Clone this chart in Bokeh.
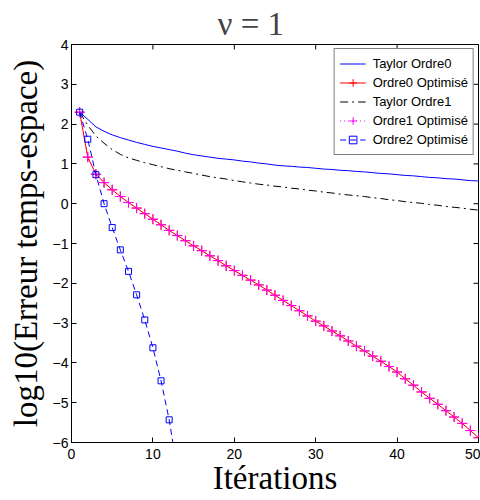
import math
from bokeh.plotting import figure
from bokeh.models import Range1d, FixedTicker, Legend, LegendItem
from bokeh.embed import file_html
from bokeh.resources import INLINE

# ---- data ----
iterations = list(range(1, 51))

taylor_ordre0 = [2.30, 2.12, 1.93, 1.82, 1.73, 1.66, 1.60, 1.54, 1.49, 1.44,
                 1.40, 1.36, 1.32, 1.27, 1.23, 1.20, 1.17, 1.14, 1.12, 1.10,
                 1.07, 1.05, 1.02, 1.00, 0.97, 0.95, 0.94, 0.92, 0.91, 0.89,
                 0.87, 0.86, 0.84, 0.83, 0.81, 0.80, 0.78, 0.76, 0.75, 0.73,
                 0.71, 0.70, 0.68, 0.66, 0.65, 0.63, 0.62, 0.60, 0.58, 0.57]

taylor_ordre1 = [2.30, 1.97, 1.70, 1.52, 1.36, 1.24, 1.15, 1.09, 1.03, 0.98,
                 0.93, 0.88, 0.84, 0.80, 0.76, 0.72, 0.68, 0.65, 0.62, 0.58,
                 0.55, 0.52, 0.49, 0.47, 0.44, 0.42, 0.39, 0.37, 0.34, 0.32,
                 0.29, 0.27, 0.24, 0.22, 0.20, 0.18, 0.15, 0.13, 0.10, 0.08,
                 0.05, 0.03, 0.01, -0.02, -0.04, -0.07, -0.09, -0.11, -0.14, -0.16]

ordre0_opt = [2.30, 1.17, 0.74, 0.53, 0.35, 0.18, 0.03, -0.11, -0.25, -0.39,
              -0.53, -0.67, -0.80, -0.93, -1.06, -1.18, -1.31, -1.43, -1.56, -1.68,
              -1.80, -1.92, -2.04, -2.17, -2.30, -2.43, -2.56, -2.69, -2.82, -2.95,
              -3.07, -3.20, -3.32, -3.45, -3.58, -3.70, -3.83, -3.96, -4.09, -4.23,
              -4.40, -4.56, -4.73, -4.89, -5.04, -5.20, -5.36, -5.52, -5.70, -5.88]

ordre1_opt = [2.30, 1.17, 0.74, 0.53, 0.35, 0.18, 0.03, -0.11, -0.25, -0.39,
              -0.53, -0.67, -0.80, -0.93, -1.06, -1.18, -1.31, -1.43, -1.56, -1.68,
              -1.80, -1.92, -2.04, -2.17, -2.30, -2.43, -2.56, -2.69, -2.82, -2.95,
              -3.07, -3.20, -3.32, -3.45, -3.58, -3.70, -3.83, -3.96, -4.09, -4.23,
              -4.40, -4.56, -4.73, -4.89, -5.04, -5.20, -5.36, -5.52, -5.70, -5.88]

ordre2_iter = [1, 2, 3, 4, 5, 6, 7, 8, 9, 10, 11, 12, 13]
ordre2_opt = [2.30, 1.62, 0.73, 0.00, -0.60, -1.16, -1.70, -2.29, -2.92, -3.62, -4.45, -5.43, -6.70]

x_ticks = [0, 10, 20, 30, 40, 50]
y_ticks = [-6, -5, -4, -3, -2, -1, 0, 1, 2, 3, 4]

x_min, x_max = x_ticks[0], x_ticks[-1]
y_min, y_max = y_ticks[0], y_ticks[-1]

# ---- figure ----
p = figure(width=480, height=500, x_range=Range1d(x_min, x_max), y_range=Range1d(y_min, y_max),
           output_backend="svg", toolbar_location=None,
           min_border_left=71, min_border_right=2, min_border_top=44, min_border_bottom=58)
p.xgrid.visible = False
p.ygrid.visible = False
p.outline_line_color = "black"
p.outline_line_width = 1
p.background_fill_color = "white"
p.border_fill_color = "white"

p.title.text = "ν = 1"
p.title.text_font = "Liberation Serif"
p.title.text_font_size = "33px"
p.title.text_font_style = "normal"
p.title.align = "left"
p.title.offset = 146
p.title.standoff = 6

for ax in (p.xaxis[0], p.yaxis[0]):
    ax.major_tick_in = 5
    ax.major_tick_out = 0
    ax.minor_tick_in = 0
    ax.minor_tick_out = 0
    ax.axis_line_color = "black"
    ax.major_tick_line_color = "black"
    ax.major_label_text_font = "Liberation Sans"
    ax.major_label_text_font_size = "14px"
    ax.major_label_text_color = "black"
    ax.axis_label_text_font = "Liberation Serif"
    ax.axis_label_text_font_size = "33px"
    ax.axis_label_text_font_style = "normal"
    ax.axis_label_text_color = "black"

p.xaxis.ticker = FixedTicker(ticks=x_ticks)
p.yaxis.ticker = FixedTicker(ticks=y_ticks)
p.xaxis.axis_label = "Itérations"
p.yaxis.axis_label = "log10(Erreur temps-espace)"
p.xaxis.major_label_standoff = 6
p.yaxis.major_label_standoff = 3
p.xaxis.axis_label_standoff = -2
p.yaxis.axis_label_standoff = 6

# box ticks on the top and right edges (half of each dash lies inside the frame)
p.scatter([x_max] * len(y_ticks), y_ticks, marker="dash", size=10, line_color="black", line_width=1)
p.scatter(x_ticks, [y_max] * len(x_ticks), marker="dash", angle=math.pi / 2, size=10,
          line_color="black", line_width=1)

# ---- series ----
r_t0 = p.line(iterations, taylor_ordre0, line_color="#0000ff", line_width=1)

r_o1_line = p.line(iterations, ordre1_opt, line_color="#ff00ff", line_width=1, line_dash="1 3")
r_o0_line = p.line(iterations, ordre0_opt, line_color="#ff0000", line_width=1)
r_o0_mk = p.scatter(iterations, ordre0_opt, marker="cross", size=10, line_color="#ff0000", line_width=1)

r_t1 = p.line(iterations, taylor_ordre1, line_color="black", line_width=1, line_dash="8 4 2 4")

r_o1_mk = p.scatter(iterations, ordre1_opt, marker="cross", size=10, line_color="#ff00ff", line_width=1)

r_o2_line = p.line(ordre2_iter, ordre2_opt, line_color="#0000ff", line_width=1, line_dash="6 4")
r_o2_mk = p.scatter(ordre2_iter, ordre2_opt, marker="square", size=6, line_color="#0000ff",
                    fill_color=None, line_width=1)

legend = Legend(items=[
    LegendItem(label="Taylor Ordre0", renderers=[r_t0]),
    LegendItem(label="Ordre0 Optimisé", renderers=[r_o0_line, r_o0_mk]),
    LegendItem(label="Taylor Ordre1", renderers=[r_t1]),
    LegendItem(label="Ordre1 Optimisé", renderers=[r_o1_line, r_o1_mk]),
    LegendItem(label="Ordre2 Optimisé", renderers=[r_o2_line, r_o2_mk]),
], location="top_right")
legend.label_text_font = "Liberation Sans"
legend.label_text_font_size = "13px"
legend.label_text_color = "black"
legend.glyph_width = 26
legend.glyph_height = 19
legend.label_height = 19
legend.label_standoff = 7
legend.spacing = 0
legend.padding = 5
legend.margin = 4
legend.border_line_color = "black"
legend.border_line_width = 1
legend.background_fill_color = "white"
legend.background_fill_alpha = 1
p.add_layout(legend, "center")

open("out.html", "w").write(file_html(p, INLINE))
